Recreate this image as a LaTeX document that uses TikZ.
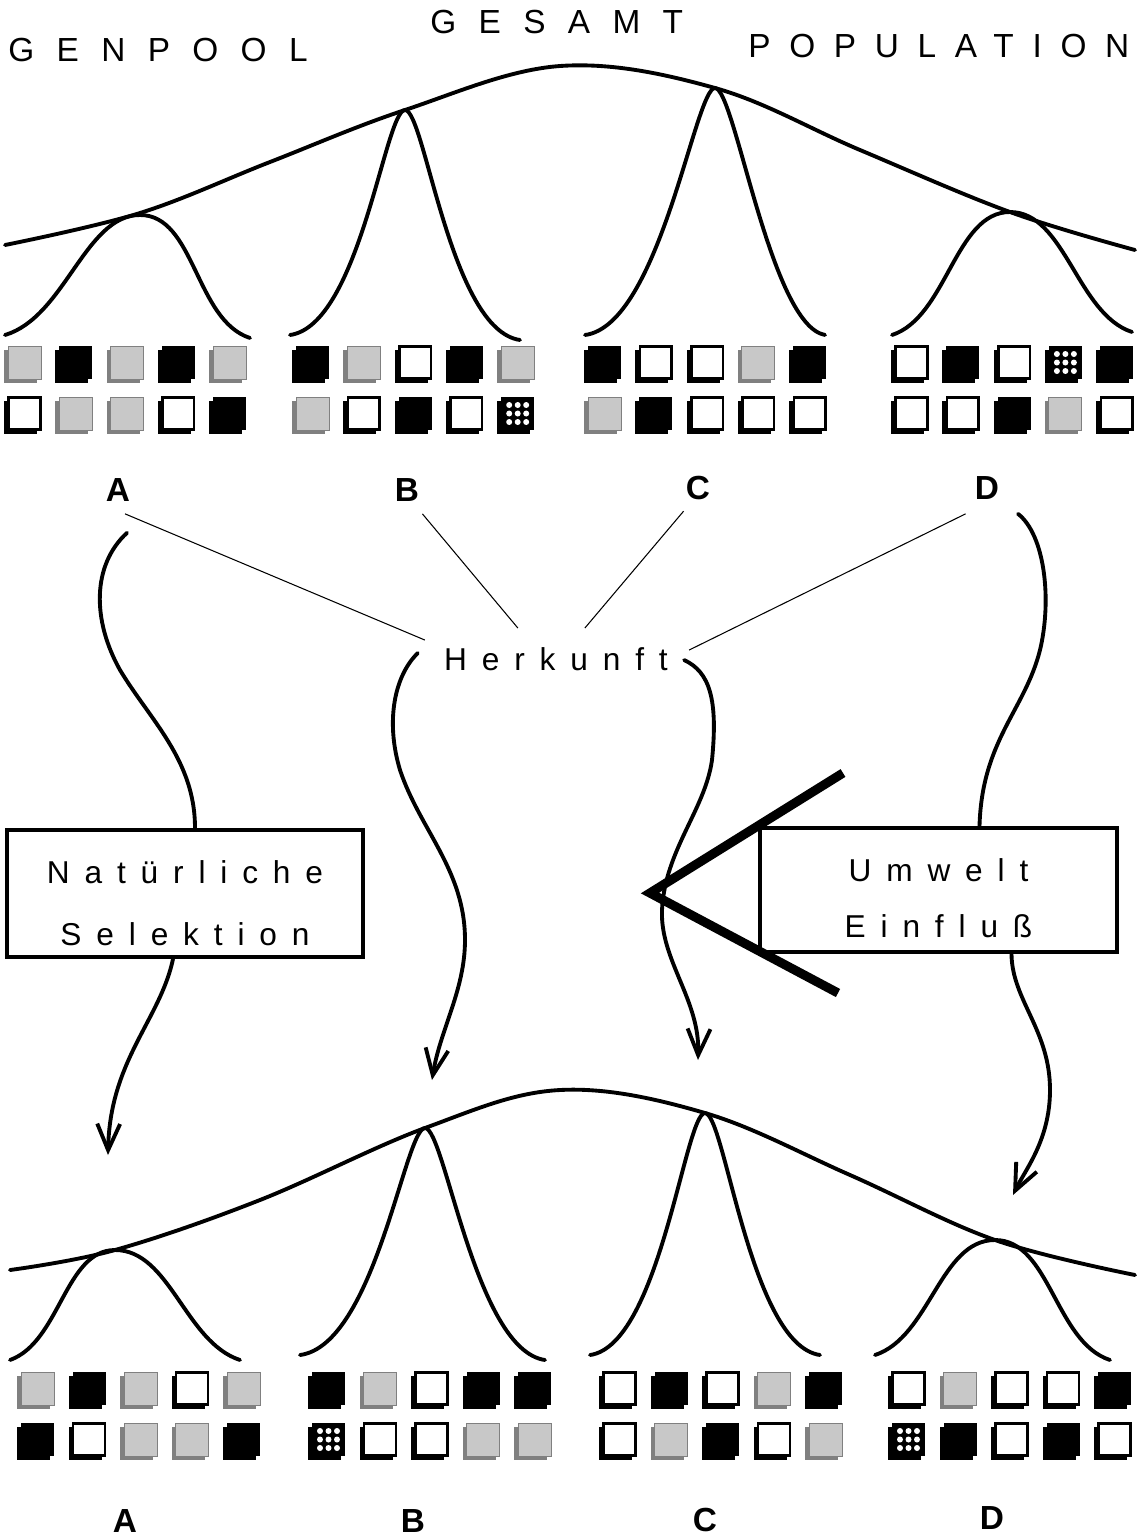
\documentclass[tikz,border=0pt]{standalone}
\usepackage{fontspec}
\setmainfont{Liberation Sans}
\newfontfamily\widefont[LetterSpace=67]{Liberation Sans}
\newfontfamily\tightwide[LetterSpace=56]{Liberation Sans}
\newfontfamily\midfont[LetterSpace=47]{Liberation Sans}
\usepackage{tikz}
\usetikzlibrary{calc,arrows.meta}
\definecolor{genegray}{HTML}{C8C8C8}
\definecolor{shadegray}{HTML}{808080}
\tikzset{
  curve/.style={draw=black, line width=2.2pt, line cap=round, line join=round},
  flow/.style={curve},
  tip/.style={-{Straight Barb[length=15pt,width=13pt]}},
  link/.style={draw=black, line width=0.6pt},
  heading/.style={font=\widefont\fontsize{19}{22}\selectfont, inner sep=0pt},
  word/.style={font=\midfont\fontsize{18}{21}\selectfont, inner sep=0pt},
  tag/.style={font=\bfseries\fontsize{19}{22}\selectfont, inner sep=0pt},
  frame/.style={draw=black, line width=2.4pt, align=center, inner sep=0pt},
  chev/.style={draw=black, line width=5.2pt, line join=miter},
}
% one gene square: top-left of the face at (#1,#2), kind #3 = k, g, w or p
\newcommand{\gene}[3]{\begin{scope}[shift={(#1,#2)}]\csname genebox#3\endcsname\end{scope}}
\newcommand{\geneboxk}{\fill (-4,4) rectangle (29,37); \fill (0,0) rectangle (33,33);}
\newcommand{\geneboxw}{\fill (-4,4) rectangle (29,37);
  \filldraw[fill=white, line width=1.4pt] (0.7,0.7) rectangle (32.3,32.3);}
\newcommand{\geneboxg}{\fill[shadegray] (-4,4) rectangle (29,37);
  \filldraw[fill=genegray, draw=shadegray, line width=0.5pt] (0,0) rectangle (33,33);}
\newcommand{\geneboxp}{\geneboxk
  \foreach \u in {8,16.5,25} {\foreach \v in {8,16.5,25} {\fill[white] (\u,\v) circle (3);}}}

\begin{document}
\begin{tikzpicture}[x=0.02cm, y=-0.02cm]
  \useasboundingbox (0,0) rectangle (1148,1539);

  % headings
  \node[heading, anchor=base west] (genpool) at (8,61) {GENPOOL};
  \node[heading, anchor=base west] (gesamt) at (430,33) {GESAMT};
  \node[heading, anchor=base west, font=\tightwide\fontsize{19}{22}\selectfont]
    (popul) at (748,57) {POPULATION};

  % gene pool before
  \draw[curve] plot[smooth, tension=0.6] coordinates {(5,245) (140,213) (270,162)
    (405,110) (560,66) (715,88) (860,150) (1010,212) (1135,250)};
  \draw[curve] (5,335) .. controls +(60,-18) and +(-55,0) .. (140,215)
    .. controls +(55,0) and +(-55,-18) .. (250,338);
  \draw[curve] (290,335) .. controls +(70,-10) and +(-20,0) .. (405,110)
    .. controls +(20,0) and +(-70,-10) .. (520,340);
  \draw[curve] (585,335) .. controls +(75,-10) and +(-20,0) .. (715,88)
    .. controls +(20,0) and +(-55,-10) .. (825,335);
  \draw[curve] (892,335) .. controls +(55,-18) and +(-55,0) .. (1010,212)
    .. controls +(55,0) and +(-55,-18) .. (1132,332);

  \foreach \k [count=\i from 0] in {g,k,g,k,g} \gene{8+51.3*\i}{346}{\k};
  \foreach \k [count=\i from 0] in {w,g,g,w,k} \gene{8+51.3*\i}{397}{\k};
  \foreach \k [count=\i from 0] in {k,g,w,k,g} \gene{296+51.3*\i}{346}{\k};
  \foreach \k [count=\i from 0] in {g,w,k,w,p} \gene{296+51.3*\i}{397}{\k};
  \foreach \k [count=\i from 0] in {k,w,w,g,k} \gene{588+51.3*\i}{346}{\k};
  \foreach \k [count=\i from 0] in {g,k,w,w,w} \gene{588+51.3*\i}{397}{\k};
  \foreach \k [count=\i from 0] in {w,k,w,p,k} \gene{895+51.3*\i}{346}{\k};
  \foreach \k [count=\i from 0] in {w,w,k,g,w} \gene{895+51.3*\i}{397}{\k};

  \node[tag] (ta) at (118,490) {A};
  \node[tag] (tb) at (407,490) {B};
  \node[tag] (tc) at (698,488) {C};
  \node[tag] (td) at (987,488) {D};

  % origin
  \node[word] (herk) at (556,659) {Herkunft};
  \draw[link] ([shift={(7,12)}]ta.south) -- ([shift={(-19,-7)}]herk.north west);
  \draw[link] ([shift={(3,12)}]tb.south east) -- ([shift={(74,-19)}]herk.north west);
  \draw[link] ([shift={(-2,11)}]tc.south west) -- ([shift={(141,-19)}]herk.north west);
  \draw[link] ([shift={(-9,14)}]td.south west) -- ([shift={(21,3)}]herk.north east);

  % influences
  \node[frame, minimum width=71.2mm, minimum height=25.4mm,
    font=\midfont\fontsize{18}{35}\selectfont] (sel) at (185,893.5)
    {\rule{0pt}{24pt}Natürliche\\Selektion};
  \node[frame, minimum width=71.4mm, minimum height=24.8mm,
    font=\midfont\fontsize{18}{32}\selectfont] (umw) at (938.5,890)
    {\rule{0pt}{22pt}Umwelt\\Einfluß};
  \draw[chev] (843,773) -- (650,893) -- (838,993);

  \coordinate (tipa) at (108,1155);
  \coordinate (tipb) at (432,1080);
  \coordinate (tipc) at (698,1060);
  \coordinate (tipd) at (1013,1195);

  \draw[flow] ([shift={(9,31)}]ta.south) .. controls (92,565) and (92,620) .. (120,670)
    .. controls (150,720) and (195,760) .. ([shift={(10,0)}]sel.north);
  \draw[flow, tip] ([shift={(-12,0)}]sel.south) .. controls (160,1020) and (110,1060) .. (tipa);
  \draw[flow, tip] ([shift={(-26,-6)}]herk.west) .. controls (395,675) and (385,720) .. (400,770)
    .. controls (420,830) and (465,870) .. (465,940) .. controls (465,990) and (440,1030) .. (tipb);
  \draw[flow, tip] ([shift={(16,1)}]herk.east) .. controls (710,672) and (718,700) .. (712,760)
    .. controls (705,810) and (665,850) .. (662,910) .. controls (660,960) and (700,1000) .. (tipc);
  \draw[flow] ([shift={(31,14)}]td.south) .. controls (1045,535) and (1052,600) .. (1040,650)
    .. controls (1025,710) and (982,740) .. ([shift={(41,0)}]umw.north);
  \draw[flow, tip] ([shift={(73,0)}]umw.south) .. controls (1012,1000) and (1050,1030) .. (1050,1090)
    .. controls (1050,1140) and (1025,1170) .. (tipd);

  % gene pool after
  \draw[curve] plot[smooth, tension=0.6] coordinates {(10,1270) (115,1250) (260,1200)
    (425,1128) (560,1090) (705,1113) (850,1175) (995,1240) (1135,1275)};
  \draw[curve] (10,1360) .. controls +(50,-18) and +(-50,0) .. (115,1250)
    .. controls +(55,0) and +(-55,-18) .. (240,1360);
  \draw[curve] (300,1355) .. controls +(75,-10) and +(-20,0) .. (425,1128)
    .. controls +(20,0) and +(-70,-10) .. (545,1360);
  \draw[curve] (590,1355) .. controls +(70,-10) and +(-20,0) .. (705,1113)
    .. controls +(20,0) and +(-70,-10) .. (820,1355);
  \draw[curve] (875,1355) .. controls +(55,-18) and +(-55,0) .. (995,1240)
    .. controls +(55,0) and +(-55,-18) .. (1110,1360);

  \foreach \k [count=\i from 0] in {g,k,g,w,g} \gene{21+51.5*\i}{1372}{\k};
  \foreach \k [count=\i from 0] in {k,w,g,g,k} \gene{21+51.5*\i}{1423}{\k};
  \foreach \k [count=\i from 0] in {k,g,w,k,k} \gene{312+51.5*\i}{1372}{\k};
  \foreach \k [count=\i from 0] in {p,w,w,g,g} \gene{312+51.5*\i}{1423}{\k};
  \foreach \k [count=\i from 0] in {w,k,w,g,k} \gene{603+51.5*\i}{1372}{\k};
  \foreach \k [count=\i from 0] in {w,g,k,w,g} \gene{603+51.5*\i}{1423}{\k};
  \foreach \k [count=\i from 0] in {w,g,w,w,k} \gene{892+51.5*\i}{1372}{\k};
  \foreach \k [count=\i from 0] in {p,k,w,k,w} \gene{892+51.5*\i}{1423}{\k};

  \node[tag] (ba) at (125,1521) {A};
  \node[tag] (bb) at (413,1521) {B};
  \node[tag] (bc) at (705,1520) {C};
  \node[tag] (bd) at (992,1518) {D};
\end{tikzpicture}
\end{document}
